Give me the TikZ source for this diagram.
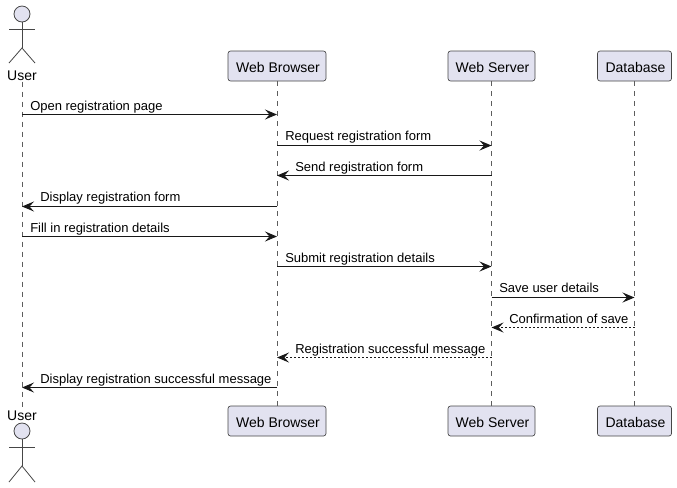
\documentclass[tikz,border=0pt]{standalone}
\usepackage{fontspec}
\setmainfont{Liberation Sans}
\usepackage{xcolor}
\usepackage{tikz}
\usetikzlibrary{arrows.meta, positioning}

\definecolor{partfill}{HTML}{E2E2F0}
\definecolor{partline}{HTML}{181818}

\tikzset{
  part/.style={draw=partline!80, fill=partfill, rounded corners=1.9pt, line width=0.5pt, minimum height=22.5pt, inner sep=0pt, text height=9pt, text depth=0pt, execute at begin node=\hspace*{1.5pt}, font=\fontsize{10.5pt}{12pt}\selectfont, text=black},
  actorname/.style={inner sep=0pt, outer ysep=1pt, font=\fontsize{10.5pt}{12pt}\selectfont, text=black},
  actorline/.style={draw=partline!80, line width=0.6pt},
  lifeline/.style={draw=partline!70, line width=0.45pt, dash pattern=on 3.75pt off 3.75pt},
  msg/.style={draw=partline, line width=0.75pt, -{Stealth[length=9pt, width=7.5pt, inset=3.4pt]}},
  reply/.style={msg, dash pattern=on 1.5pt off 1.5pt},
  msglabel/.style={anchor=base west, inner sep=0pt, font=\fontsize{9.75pt}{11pt}\selectfont, text=black}
}

\begin{document}
\begin{tikzpicture}[x=0.75pt, y=-0.75pt]
  \useasboundingbox (0,0) rectangle (677,487);

  % participants
  \node[actorname] (userT) at (22,75.5) {User};
  \node[part, minimum width=73.5pt] (browserT) at (277,66) {Web Browser};
  \node[part, minimum width=65.25pt] (serverT) at (491.5,66) {Web Server};
  \node[part, minimum width=55.5pt] (dbT) at (634.5,66) {Database};

  \node[actorname] (userB) at (22,415.5) {User};
  \node[part, minimum width=73.5pt] (browserB) at (277,421) {Web Browser};
  \node[part, minimum width=65.25pt] (serverB) at (491.5,421) {Web Server};
  \node[part, minimum width=55.5pt] (dbB) at (634.5,421) {Database};

  % lifelines
  \draw[lifeline] (userT) -- (userB);
  \draw[lifeline] (browserT) -- (browserB);
  \draw[lifeline] (serverT) -- (serverB);
  \draw[lifeline] (dbT) -- (dbB);

  % actor figures
  \node[circle, draw=partline!80, fill=partfill, line width=0.6pt, minimum size=12pt, inner sep=0pt] (headT) at (22,14) {};
  \coordinate (hipT) at (22,48);
  \coordinate (armLT) at (9,29);
  \coordinate (armRT) at (35,29);
  \coordinate (legLT) at (9,63);
  \coordinate (legRT) at (35,63);
  \draw[actorline] (headT) -- (hipT);
  \draw[actorline] (armLT) -- (armRT);
  \draw[actorline] (legLT) -- (hipT) -- (legRT);

  \node[circle, draw=partline!80, fill=partfill, line width=0.6pt, minimum size=12pt, inner sep=0pt] (headB) at (22,431) {};
  \coordinate (hipB) at (22,466);
  \coordinate (armLB) at (9,447);
  \coordinate (armRB) at (35,447);
  \coordinate (legLB) at (9,482);
  \coordinate (legRB) at (35,482);
  \draw[actorline] (headB) -- (hipB);
  \draw[actorline] (armLB) -- (armRB);
  \draw[actorline] (legLB) -- (hipB) -- (legRB);

  % message heights
  \coordinate (m1) at (0,114.5);
  \coordinate (m2) at (0,145.5);
  \coordinate (m3) at (0,175.5);
  \coordinate (m4) at (0,206.5);
  \coordinate (m5) at (0,236.5);
  \coordinate (m6) at (0,266.5);
  \coordinate (m7) at (0,297.5);
  \coordinate (m8) at (0,327.5);
  \coordinate (m9) at (0,357.5);
  \coordinate (m10) at (0,387.5);

  % messages
  \draw[msg] (userT |- m1) -- (browserT |- m1);
  \draw[msg] (browserT |- m2) -- (serverT |- m2);
  \draw[msg] (serverT |- m3) -- (browserT |- m3);
  \draw[msg] (browserT |- m4) -- (userT |- m4);
  \draw[msg] (userT |- m5) -- (browserT |- m5);
  \draw[msg] (browserT |- m6) -- (serverT |- m6);
  \draw[msg] (serverT |- m7) -- (dbT |- m7);
  \draw[reply] (dbT |- m8) -- (serverT |- m8);
  \draw[reply] (serverT |- m9) -- (browserT |- m9);
  \draw[msg] (browserT |- m10) -- (userT |- m10);

  % message labels
  \node[msglabel] (l1) at (30,110) {Open registration page};
  \node[msglabel] (l2) at (285,140.5) {Request registration form};
  \node[msglabel] (l3) at (295,171) {Send registration form};
  \node[msglabel] (l4) at (40,201.5) {Display registration form};
  \node[msglabel] (l5) at (30,232) {Fill in registration details};
  \node[msglabel] (l6) at (285,262) {Submit registration details};
  \node[msglabel] (l7) at (499,292.5) {Save user details};
  \node[msglabel] (l8) at (509,323) {Confirmation of save};
  \node[msglabel] (l9) at (295,353) {Registration successful message};
  \node[msglabel] (l10) at (40,383.5) {Display registration successful message};
\end{tikzpicture}
\end{document}
